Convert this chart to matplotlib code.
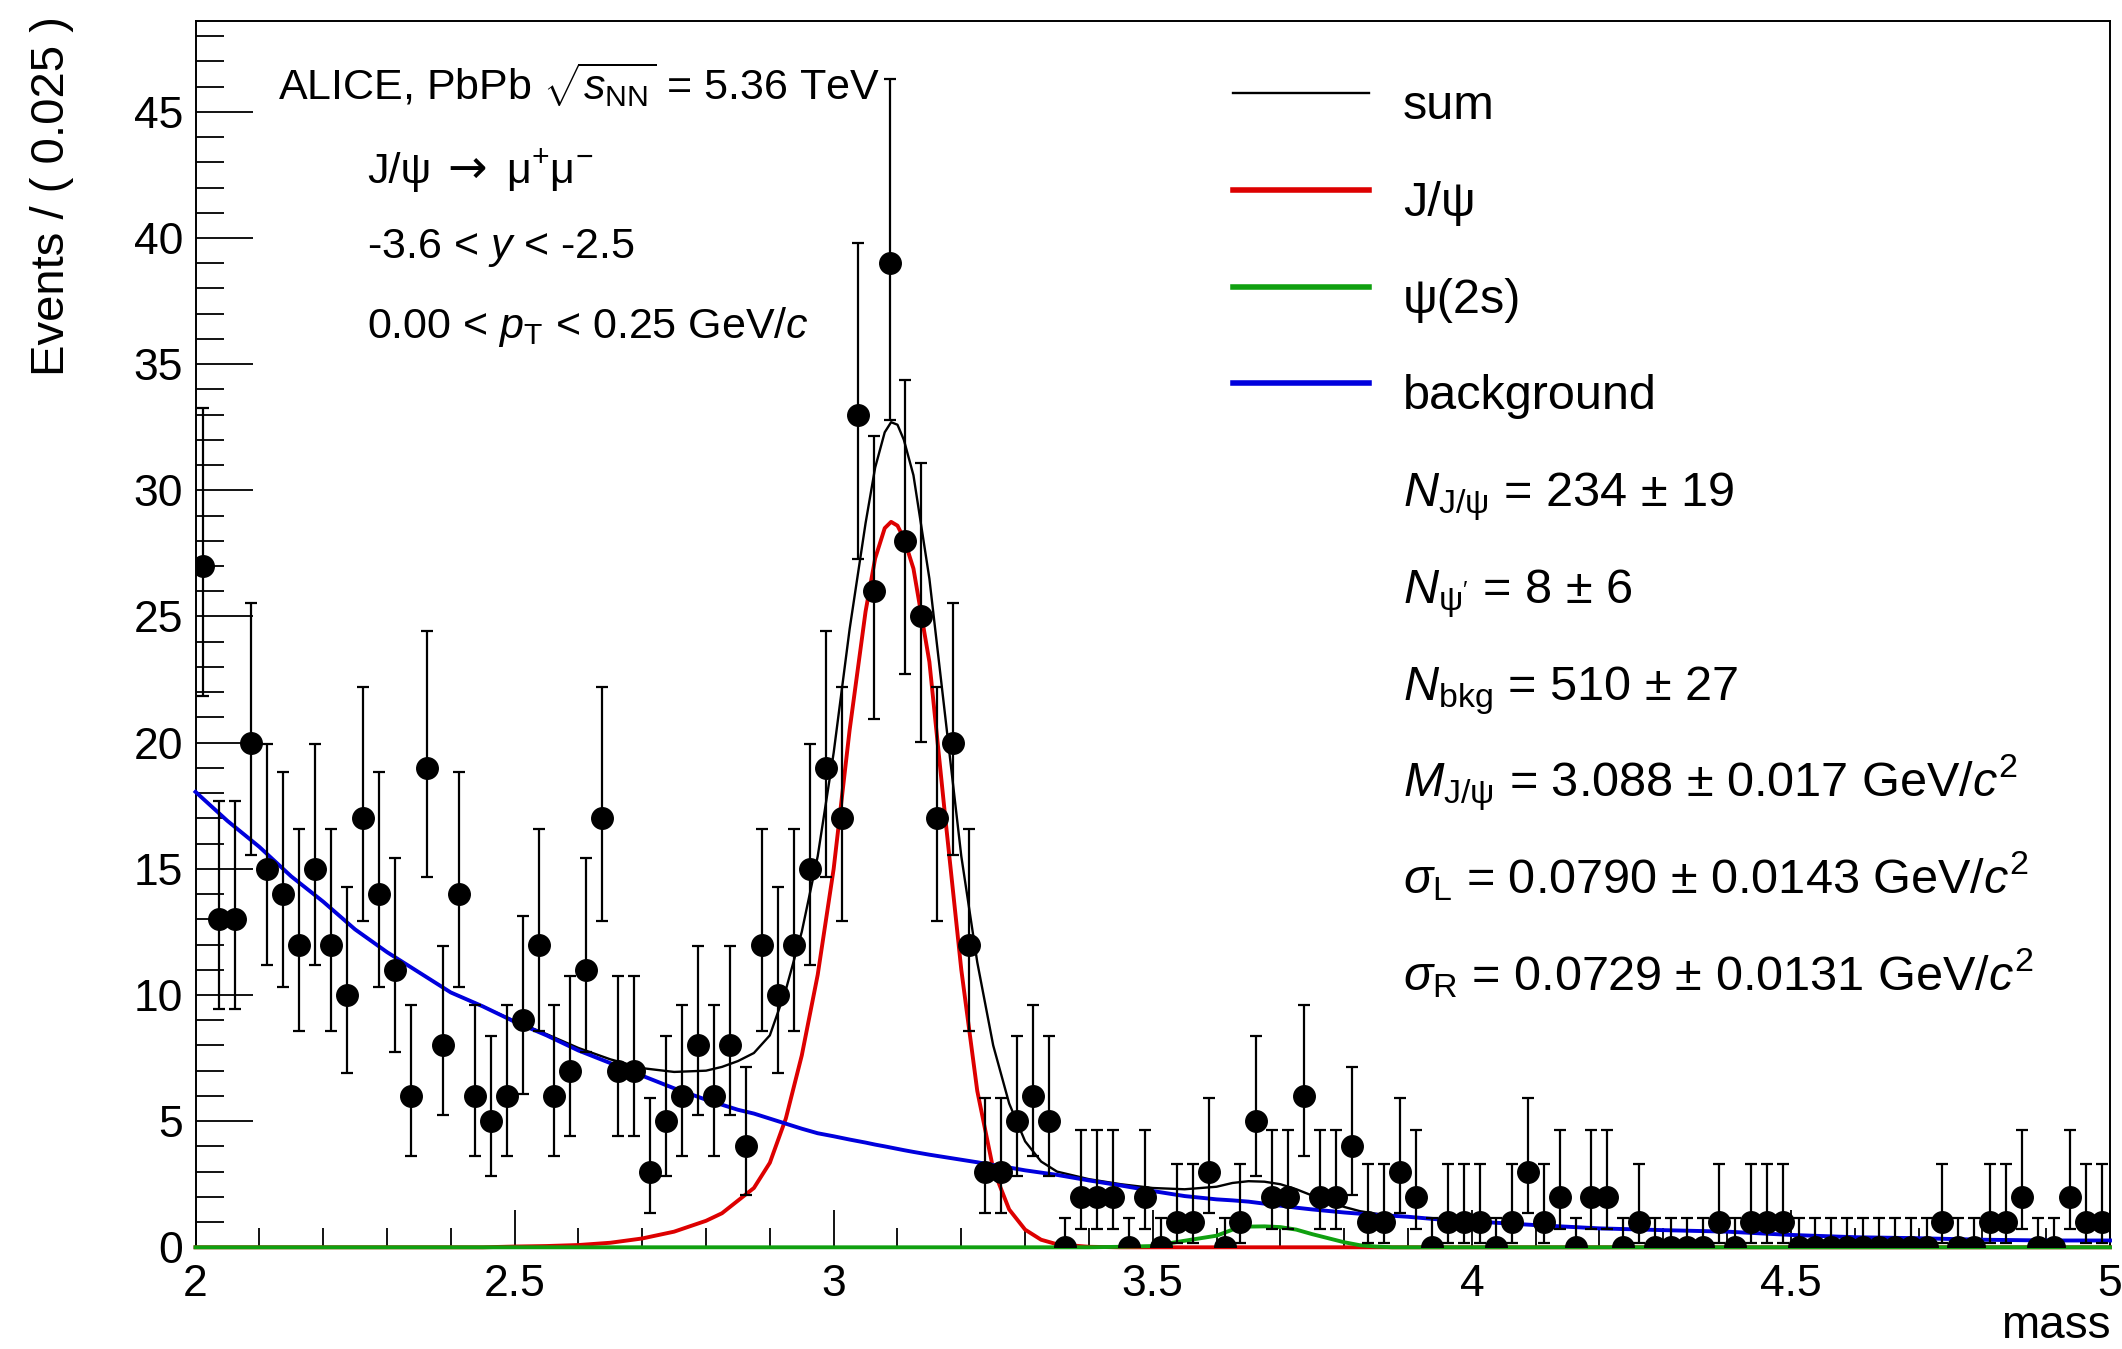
import math
import numpy as np
import matplotlib
matplotlib.use("Agg")
import matplotlib.pyplot as plt
from matplotlib.lines import Line2D
from matplotlib.ticker import MultipleLocator, FuncFormatter

plt.rcParams['font.family'] = ['Liberation Sans', 'DejaVu Sans']
plt.rcParams['mathtext.fontset'] = 'custom'
plt.rcParams['mathtext.rm'] = 'Liberation Sans'
plt.rcParams['mathtext.it'] = 'Liberation Sans:italic'
plt.rcParams['mathtext.bf'] = 'Liberation Sans:bold'
plt.rcParams['mathtext.sf'] = 'Liberation Sans'

W, H = 2122, 1349

# binned data: 120 bins of 0.025 between 2 and 5
bin_width = 0.025
counts = [27, 13, 13, 20, 15, 14, 12, 15, 12, 10, 17, 14, 11, 6, 19, 8, 14, 6, 5, 6,
          9, 12, 6, 7, 11, 17, 7, 7, 3, 5, 6, 8, 6, 8, 4, 12, 10, 12, 15, 19,
          17, 33, 26, 39, 28, 25, 17, 20, 12, 3, 3, 5, 6, 5, 0, 2, 2, 2, 0, 2,
          0, 1, 1, 3, 0, 1, 5, 2, 2, 6, 2, 2, 4, 1, 1, 3, 2, 0, 1, 1,
          1, 0, 1, 3, 1, 2, 0, 2, 2, 0, 1, 0, 0, 0, 0, 1, 0, 1, 1, 1,
          0, 0, 0, 0, 0, 0, 0, 0, 0, 1, 0, 0, 1, 1, 2, 0, 0, 2, 1, 1]

# fitted curves
curve_x = [2.00, 2.05, 2.10, 2.15, 2.20, 2.25, 2.30, 2.35, 2.40, 2.45, 2.50, 2.55, 2.60,
           2.65, 2.70, 2.75, 2.80, 2.825, 2.85, 2.875, 2.90, 2.925, 2.95, 2.975, 3.00,
           3.025, 3.05, 3.065, 3.08, 3.09, 3.10, 3.11, 3.125, 3.15, 3.175, 3.20, 3.225,
           3.25, 3.275, 3.30, 3.325, 3.35, 3.40, 3.45, 3.50, 3.55, 3.60, 3.625, 3.65,
           3.675, 3.70, 3.725, 3.75, 3.775, 3.80, 3.825, 3.85, 3.875, 3.90, 3.95, 4.00,
           4.10, 4.20, 4.30, 4.40, 4.50, 4.60, 4.70, 4.80, 4.90, 5.00]
bkg_y = [18.05, 16.9, 15.87, 14.7, 13.7, 12.6, 11.7, 10.9, 10.1, 9.55, 8.94, 8.4, 7.8,
         7.3, 6.8, 6.3, 5.85, 5.65, 5.45, 5.3, 5.1, 4.9, 4.7, 4.52, 4.4,
         4.27, 4.15, 4.07, 4.0, 3.95, 3.9, 3.85, 3.78, 3.67, 3.57, 3.47, 3.37,
         3.26, 3.16, 3.05, 2.96, 2.87, 2.65, 2.45, 2.23, 2.03, 1.90, 1.86, 1.81,
         1.73, 1.65, 1.57, 1.50, 1.44, 1.38, 1.33, 1.29, 1.25, 1.21, 1.10, 1.03,
         0.88, 0.75, 0.68, 0.62, 0.49, 0.40, 0.36, 0.30, 0.27, 0.27]
jpsi_y = [0, 0, 0, 0, 0, 0, 0, 0, 0, 0, 0.03, 0.05, 0.09,
          0.18, 0.35, 0.62, 1.05, 1.35, 1.85, 2.35, 3.35, 5.1, 7.6, 10.8, 15.0,
          20.5, 25.2, 27.3, 28.5, 28.75, 28.6, 28.1, 26.9, 23.2, 17.0, 11.0, 6.2,
          3.1, 1.5, 0.7, 0.3, 0.12, 0.02, 0, 0, 0, 0, 0, 0,
          0, 0, 0, 0, 0, 0, 0, 0, 0, 0, 0, 0,
          0, 0, 0, 0, 0, 0, 0, 0, 0, 0]
psi2s_y = [0, 0, 0, 0, 0, 0, 0, 0, 0, 0, 0, 0, 0,
           0, 0, 0, 0, 0, 0, 0, 0, 0, 0, 0, 0,
           0, 0, 0, 0, 0, 0, 0, 0, 0, 0, 0, 0,
           0, 0, 0, 0, 0, 0, 0.02, 0.05, 0.26, 0.46, 0.70, 0.82,
           0.83, 0.80, 0.70, 0.52, 0.36, 0.20, 0.08, 0.03, 0, 0, 0, 0,
           0, 0, 0, 0, 0, 0, 0, 0, 0, 0]
sum_y = [18.05, 16.9, 15.87, 14.7, 13.7, 12.6, 11.7, 10.9, 10.1, 9.55, 8.97, 8.45, 7.9,
         7.45, 7.1, 6.95, 7.0, 7.15, 7.38, 7.7, 8.4, 10.2, 12.5, 15.5, 19.6,
         24.5, 28.7, 30.9, 32.3, 32.7, 32.6, 32.0, 30.6, 26.5, 21.0, 15.5, 11.3,
         8.0, 5.7, 4.2, 3.4, 3.0, 2.7, 2.5, 2.35, 2.3, 2.4, 2.55, 2.62,
         2.6, 2.5, 2.3, 2.05, 1.82, 1.6, 1.43, 1.33, 1.26, 1.21, 1.10, 1.03,
         0.88, 0.75, 0.68, 0.62, 0.49, 0.40, 0.36, 0.30, 0.27, 0.27]

legend_labels = ["sum", "J/ψ", "ψ(2s)", "background"]
legend_colors = ["black", "#dd0000", "#10a010", "#0000dd"]
fit_lines = [r"$N_{\mathrm{J/ψ}}$ = 234 ± 19",
             r"$N_{\mathrm{ψ'}}$ = 8 ± 6",
             r"$N_{\mathrm{bkg}}$ = 510 ± 27",
             r"$M_{\mathrm{J/ψ}}$ = 3.088 ± 0.017 GeV/$c^{2}$",
             r"$σ_{\mathrm{L}}$ = 0.0790 ± 0.0143 GeV/$c^{2}$",
             r"$σ_{\mathrm{R}}$ = 0.0729 ± 0.0131 GeV/$c^{2}$"]


def poisson_cdf(k, lam):
    if lam <= 0:
        return 1.0
    s, term = 0.0, math.exp(-lam)
    for i in range(k + 1):
        if i > 0:
            term *= lam / i
        s += term
    return s


def solve(f, target, lo, hi):
    # f decreasing in lam
    for _ in range(80):
        mid = 0.5 * (lo + hi)
        if f(mid) > target:
            lo = mid
        else:
            hi = mid
    return 0.5 * (lo + hi)


def poisson_interval(n):
    alpha = (1 - 0.6827) / 2
    top = n + 10 * math.sqrt(n + 1) + 10
    if n == 0:
        return 0.0, solve(lambda l: poisson_cdf(0, l), 2 * alpha, 0, top)
    up = solve(lambda l: poisson_cdf(n, l), alpha, 0, top)
    low = solve(lambda l: poisson_cdf(n - 1, l), 1 - alpha, 0, top)
    return low, up


centers = 2.0 + bin_width * (np.arange(len(counts)) + 0.5)
err_lo, err_hi = [], []
for n in counts:
    low, up = poisson_interval(n)
    err_lo.append(n - low)
    err_hi.append(up - n)

fig = plt.figure(figsize=(W / 100, H / 100), dpi=100)
ax = fig.add_axes([195.5 / W, 1 - 1247.3 / H, (2110 - 195.5) / W, (1247.3 - 21) / H])

ax.plot(curve_x, sum_y, color="black", lw=1.7, zorder=3, clip_on=False)
ax.plot(curve_x, jpsi_y, color="#dd0000", lw=2.8, zorder=4, clip_on=False)
ax.plot(curve_x, psi2s_y, color="#10a010", lw=2.8, zorder=5, clip_on=False)
ax.plot(curve_x, bkg_y, color="#0000dd", lw=2.8, zorder=6, clip_on=False)
ax.errorbar(centers, counts, yerr=[err_lo, err_hi], fmt="o", color="black", ms=15.5,
            elinewidth=1.6, capsize=4.5, capthick=1.6, zorder=7)

ax.set_xlim(2, 5)
ax.set_ylim(0, 48.6)
ax.xaxis.set_major_locator(MultipleLocator(0.5))
ax.xaxis.set_minor_locator(MultipleLocator(0.1))
ax.yaxis.set_major_locator(MultipleLocator(5))
ax.yaxis.set_minor_locator(MultipleLocator(1))
ax.xaxis.set_major_formatter(FuncFormatter(lambda v, p: f"{v:g}"))
ax.yaxis.set_major_formatter(FuncFormatter(lambda v, p: f"{v:g}"))
ax.tick_params(axis="both", which="both", direction="in", top=False, right=False,
               width=1.3, labelsize=32)
ax.tick_params(axis="y", which="major", length=41, pad=9)
ax.tick_params(axis="y", which="minor", length=20)
ax.tick_params(axis="x", which="major", length=27, pad=12)
ax.tick_params(axis="x", which="minor", length=14)
for sp in ax.spines.values():
    sp.set_linewidth(1.4)

fig.text(2111 / W, 1 - 1338 / H, "mass", ha="right", va="baseline", fontsize=33)
fig.text(52 / W, 1 - 16 / H, "Events / ( 0.025 )", rotation=90, ha="center", va="top",
         fontsize=34)

# upper left labels
fig.text(278 / W, 1 - 100 / H, r"ALICE, PbPb $\sqrt{s_{\mathrm{NN}}}$ = 5.36 TeV",
         fontsize=31, va="baseline")
fig.text(367 / W, 1 - 183 / H, "J/ψ", fontsize=31, va="baseline")
fig.text(447 / W, 1 - 183 / H, "→", fontsize=34, va="baseline",
         family=["DejaVu Sans"])
fig.text(506 / W, 1 - 183 / H, r"μ$^{+}$μ$^{-}$", fontsize=31, va="baseline")
fig.text(367 / W, 1 - 258 / H, r"-3.6 < $y$ < -2.5", fontsize=31, va="baseline")
fig.text(367 / W, 1 - 338 / H, r"0.00 < $p_{\mathrm{T}}$ < 0.25 GeV/$c$", fontsize=31,
         va="baseline")

# legend and fit results on the right
row0, step = 119, 96.8
for i, (lab, col) in enumerate(zip(legend_labels, legend_colors)):
    yb = row0 + i * step
    lw = 1.7 if i == 0 else 4.0
    fig.add_artist(Line2D([1233 / W, 1369 / W], [1 - (yb - 26) / H] * 2,
                          transform=fig.transFigure, color=col, lw=lw))
    fig.text(1403 / W, 1 - yb / H, lab, fontsize=35, va="baseline")
for j, txt in enumerate(fit_lines):
    yb = row0 + (j + 4) * step
    fig.text(1403 / W, 1 - yb / H, txt, fontsize=35, va="baseline")

fig.savefig("out.png", dpi=100)
